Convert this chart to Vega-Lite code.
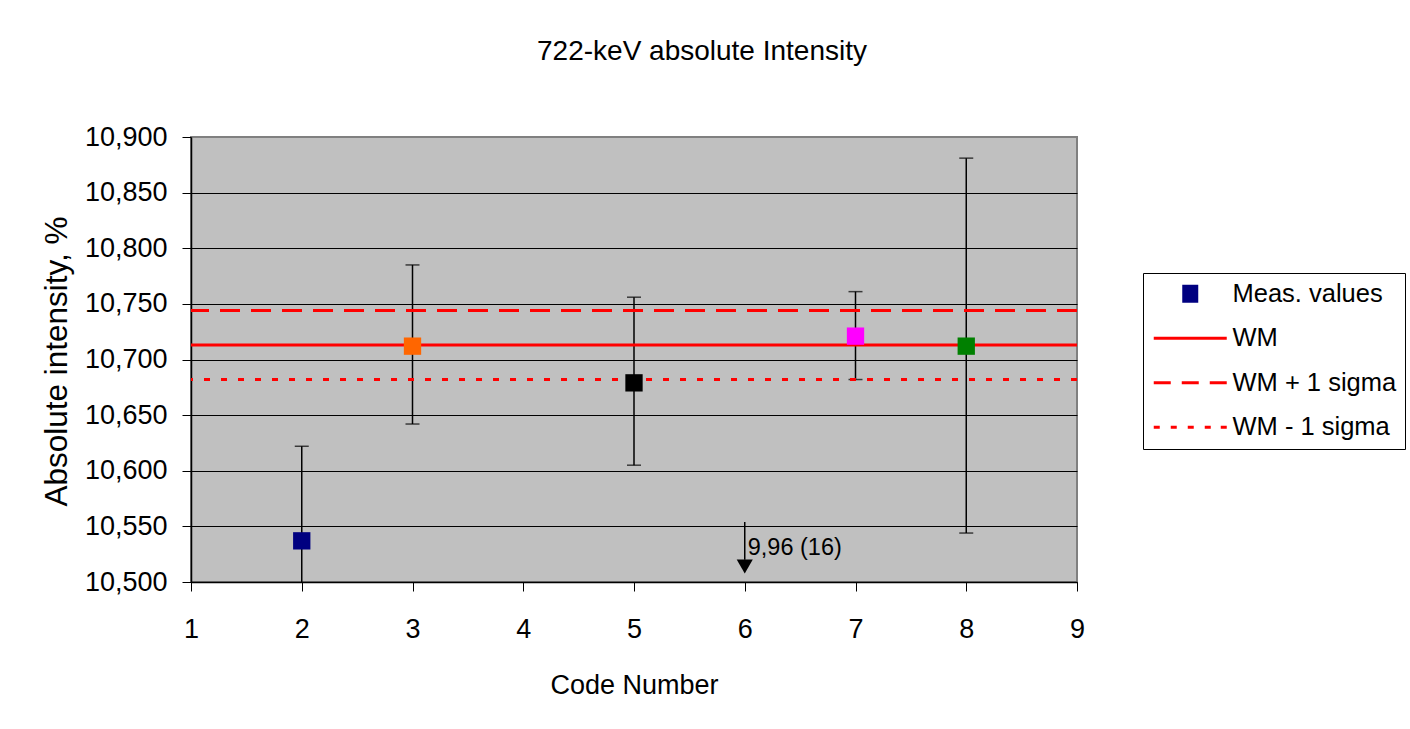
{
  "$schema": "https://vega.github.io/schema/vega-lite/v6.json",
  "width": 886,
  "height": 445,
  "autosize": {"type": "none"},
  "padding": {"left": 191, "top": 137, "right": 333, "bottom": 147},
  "background": "white",
  "view": {"fill": "#C0C0C0", "stroke": "#808080", "strokeWidth": 2},
  "config": {
    "font": "Liberation Sans",
    "view": {"fill": "#C0C0C0", "stroke": "#808080", "strokeWidth": 2}
  },
  "title": {
    "text": "722-keV absolute Intensity",
    "fontSize": 28,
    "fontWeight": "normal",
    "color": "black",
    "anchor": "middle",
    "dx": 68,
    "offset": 35,
    "baseline": "alphabetic"
  },
  "datasets": {
    "meas": [
      {"code": 2, "value": 10.537, "lower": 10.452, "upper": 10.622},
      {"code": 3, "value": 10.712, "lower": 10.642, "upper": 10.785},
      {"code": 5, "value": 10.679, "lower": 10.605, "upper": 10.756},
      {"code": 7, "value": 10.721, "lower": 10.682, "upper": 10.761},
      {"code": 8, "value": 10.712, "lower": 10.544, "upper": 10.881}
    ],
    "wm": [
      {"series": "WM", "value": 10.713},
      {"series": "WM + 1 sigma", "value": 10.744},
      {"series": "WM - 1 sigma", "value": 10.682}
    ],
    "legend": [
      {"series": "Meas. values"},
      {"series": "WM"},
      {"series": "WM + 1 sigma"},
      {"series": "WM - 1 sigma"}
    ],
    "note": [
      {"code": 6, "top": 10.554, "tip": 10.52, "head": 10.514, "labelY": 10.531, "label": "9,96 (16)"}
    ]
  },
  "layer": [
    {
      "data": {"name": "meas"},
      "mark": {"type": "rule", "color": "black", "strokeWidth": 1.5, "clip": true},
      "encoding": {
        "x": {
          "field": "code", "type": "quantitative", "scale": {"domain": [1, 9]}, "title": "Code Number",
          "axis": {
            "values": [1, 2, 3, 4, 5, 6, 7, 8, 9], "format": "d", "grid": false,
            "domainColor": "black", "domainWidth": 1.5, "tickColor": "black", "tickSize": 9, "tickWidth": 1,
            "labelFontSize": 27, "labelColor": "black", "labelPadding": 25, "labelFlush": false, "labelOverlap": false,
            "titleFontSize": 27, "titleFontWeight": "normal", "titleColor": "black", "titleY": 111, "titleBaseline": "alphabetic"
          }
        },
        "y": {
          "field": "lower", "type": "quantitative", "scale": {"domain": [10.5, 10.9]}, "title": "Absolute intensity, %",
          "axis": {
            "values": [10.5, 10.55, 10.6, 10.65, 10.7, 10.75, 10.8, 10.85, 10.9],
            "labelExpr": "replace(format(datum.value, '.3f'), '.', ',')",
            "grid": true,
            "gridColor": {"condition": {"test": "datum.value >= 10.899", "value": "transparent"}, "value": "black"},
            "gridWidth": 1, "gridOpacity": 1,
            "domainColor": "black", "domainWidth": 1.5, "tickColor": "black", "tickSize": 9, "tickWidth": 1,
            "labelFontSize": 27, "labelColor": "black", "labelPadding": 15, "labelOverlap": false,
            "titleFontSize": 31.5, "titleFontWeight": "normal", "titleColor": "black",
            "titleX": -125, "titleY": 224, "titleBaseline": "alphabetic"
          }
        },
        "y2": {"field": "upper"}
      }
    },
    {
      "data": {"name": "meas"},
      "mark": {"type": "tick", "orient": "horizontal", "size": 14, "thickness": 1.5, "color": "black", "clip": true},
      "encoding": {
        "x": {"field": "code", "type": "quantitative", "scale": {"domain": [1, 9]}},
        "y": {"field": "upper", "type": "quantitative", "scale": {"domain": [10.5, 10.9]}}
      }
    },
    {
      "data": {"name": "meas"},
      "mark": {"type": "tick", "orient": "horizontal", "size": 14, "thickness": 1.5, "color": "black", "clip": true},
      "encoding": {
        "x": {"field": "code", "type": "quantitative", "scale": {"domain": [1, 9]}},
        "y": {"field": "lower", "type": "quantitative", "scale": {"domain": [10.5, 10.9]}}
      }
    },
    {
      "data": {"name": "wm"},
      "mark": {"type": "rule", "color": "#FF0000", "strokeWidth": 3},
      "encoding": {
        "y": {"field": "value", "type": "quantitative", "scale": {"domain": [10.5, 10.9]}},
        "strokeDash": {
          "field": "series", "type": "nominal",
          "scale": {"domain": ["WM", "WM + 1 sigma", "WM - 1 sigma"], "range": [[1, 0], [20, 11], [6, 11]]},
          "legend": null
        }
      }
    },
    {
      "data": {"name": "meas"},
      "mark": {"type": "square", "size": 300, "filled": true, "opacity": 1},
      "encoding": {
        "x": {"field": "code", "type": "quantitative", "scale": {"domain": [1, 9]}},
        "y": {"field": "value", "type": "quantitative", "scale": {"domain": [10.5, 10.9]}},
        "color": {
          "field": "code", "type": "nominal",
          "scale": {"domain": [2, 3, 5, 7, 8], "range": ["#000080", "#FF6600", "#000000", "#FF00FF", "#008000"]},
          "legend": null
        }
      }
    },
    {
      "data": {"name": "note"},
      "mark": {"type": "rule", "color": "black", "strokeWidth": 1.5},
      "encoding": {
        "x": {"field": "code", "type": "quantitative", "scale": {"domain": [1, 9]}},
        "y": {"field": "top", "type": "quantitative", "scale": {"domain": [10.5, 10.9]}},
        "y2": {"field": "tip"}
      }
    },
    {
      "data": {"name": "note"},
      "mark": {"type": "point", "shape": "triangle-down", "filled": true, "color": "black", "size": 260, "opacity": 1},
      "encoding": {
        "x": {"field": "code", "type": "quantitative", "scale": {"domain": [1, 9]}},
        "y": {"field": "head", "type": "quantitative", "scale": {"domain": [10.5, 10.9]}}
      }
    },
    {
      "data": {"name": "note"},
      "mark": {"type": "text", "align": "left", "baseline": "middle", "dx": 3, "fontSize": 23.5, "color": "black"},
      "encoding": {
        "x": {"field": "code", "type": "quantitative", "scale": {"domain": [1, 9]}},
        "y": {"field": "labelY", "type": "quantitative", "scale": {"domain": [10.5, 10.9]}},
        "text": {"field": "label"}
      }
    },
    {
      "data": {"name": "legend"},
      "mark": {"type": "point", "filled": true, "opacity": 0},
      "encoding": {
        "fill": {
          "field": "series", "type": "nominal",
          "scale": {"domain": ["Meas. values", "WM", "WM + 1 sigma", "WM - 1 sigma"], "range": ["#000080", "#FF0000", "#FF0000", "#FF0000"]},
          "legend": {
            "title": null, "orient": "none", "legendX": 952, "legendY": 136,
            "strokeColor": "black", "fillColor": "white", "padding": 8,
            "labelFontSize": 25.5, "labelColor": "black", "labelLimit": 400,
            "symbolSize": 400, "symbolStrokeWidth": 0, "symbolOpacity": 1,
            "symbolOffset": 26.5, "labelOffset": 29.5, "rowPadding": 17.5
          }
        },
        "shape": {
          "field": "series", "type": "nominal",
          "scale": {
            "domain": ["Meas. values", "WM", "WM + 1 sigma", "WM - 1 sigma"],
            "range": [
              "M-0.8,-0.9H0.8V0.9H-0.8Z",
              "M-3.65,-0.15H3.65V0.15H-3.65Z",
              "M-3.65,-0.15H-1.95V0.15H-3.65ZM-0.85,-0.15H0.85V0.15H-0.85ZM1.95,-0.15H3.65V0.15H1.95Z",
              "M-3.65,-0.15H-3.05V0.15H-3.65ZM-1.95,-0.15H-1.35V0.15H-1.95ZM-0.25,-0.15H0.35V0.15H-0.25ZM1.45,-0.15H2.05V0.15H1.45ZM3.05,-0.15H3.65V0.15H3.05Z"
            ]
          },
          "legend": {
            "title": null, "orient": "none", "legendX": 952, "legendY": 136,
            "strokeColor": "black", "fillColor": "white", "padding": 8,
            "labelFontSize": 25.5, "labelColor": "black", "labelLimit": 400,
            "symbolSize": 400, "symbolStrokeWidth": 0, "symbolOpacity": 1,
            "symbolOffset": 26.5, "labelOffset": 29.5, "rowPadding": 17.5
          }
        }
      }
    }
  ]
}
